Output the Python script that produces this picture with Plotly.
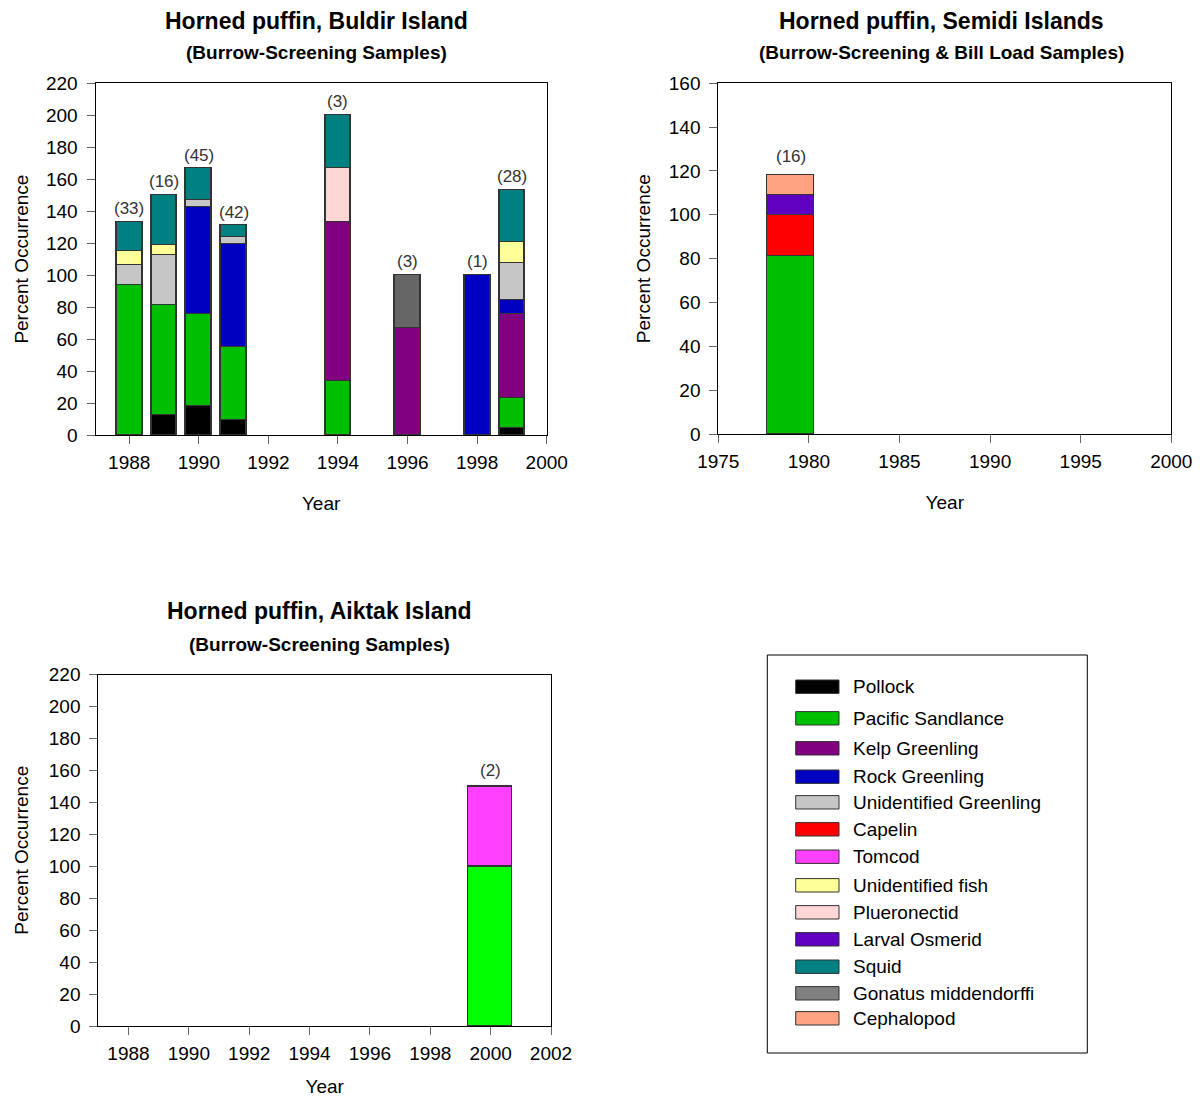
import plotly.graph_objects as go

# page is rendered with an 8px body margin, so the figure is sized to fit the window
OFF = 8
W, H = 1201 - 2 * OFF, 1105 - 2 * OFF

# ---------------- data ----------------
SPECIES = ["Pollock", "Pacific Sandlance", "Kelp Greenling", "Rock Greenling",
           "Unidentified Greenling", "Capelin", "Tomcod", "Unidentified fish",
           "Plueronectid", "Larval Osmerid", "Squid", "Gonatus middendorffi",
           "Cephalopod"]
COLORS = ["#000000", "#00BF00", "#800080", "#0000C0", "#C6C6C6", "#FF0000",
          "#FF40FF", "#FFFF99", "#FFD6D6", "#5F00C0", "#008080", "#808080",
          "#FFA382"]

# Buldir Island (Burrow-screening)
buldir_years = [1988, 1989, 1990, 1991, 1994, 1996, 1998, 1999]
buldir_n = ["(33)", "(16)", "(45)", "(42)", "(3)", "(3)", "(1)", "(28)"]
buldir_pollock = [0, 12.5, 17.8, 9.5, 0, 0, 0, 4]
buldir_sandlance = [93.9, 68.75, 57.8, 45.2, 33.3, 0, 0, 19]
buldir_kelp = [0, 0, 0, 0, 100, 66.7, 0, 52.4]
buldir_rock = [0, 0, 66.7, 64.3, 0, 0, 100, 8.6]
buldir_unid_greenling = [12.1, 31.25, 4.4, 4.8, 0, 0, 0, 23.6]
buldir_unid_fish = [9.1, 6.25, 0, 0, 0, 0, 0, 13]
buldir_pleuronectid = [0, 0, 0, 0, 33.3, 0, 0, 0]
buldir_squid = [18.2, 31.25, 20, 7.1, 33.3, 0, 0, 32.4]
buldir_gonatus = [0, 0, 0, 0, 0, 33.3, 0, 0]

# Semidi Islands (Burrow-screening & bill load)
semidi_years = [1979]
semidi_n = ["(16)"]
semidi_sandlance = [81.25]
semidi_capelin = [18.75]
semidi_osmerid = [8.7]
semidi_cephalopod = [9.5]

# Aiktak Island (Burrow-screening)
aiktak_years = [2000]
aiktak_n = ["(2)"]
aiktak_sandlance = [100]
aiktak_tomcod = [50]

buldir_series = {
    "Pollock": buldir_pollock, "Pacific Sandlance": buldir_sandlance,
    "Kelp Greenling": buldir_kelp, "Rock Greenling": buldir_rock,
    "Unidentified Greenling": buldir_unid_greenling,
    "Unidentified fish": buldir_unid_fish, "Plueronectid": buldir_pleuronectid,
    "Squid": buldir_squid, "Gonatus middendorffi": buldir_gonatus,
}
semidi_series = {
    "Pacific Sandlance": semidi_sandlance, "Capelin": semidi_capelin,
    "Larval Osmerid": semidi_osmerid, "Cephalopod": semidi_cephalopod,
}
aiktak_series = {"Pacific Sandlance": aiktak_sandlance, "Tomcod": aiktak_tomcod}

FONT = "Liberation Sans, Arial, sans-serif"


def px(x):
    return (x - OFF) / W


def py(y):
    return 1 - (y - OFF) / H


fig = go.Figure()


def add_stack(xa, ya, years, series, width, n_labels, overrides=None, label_shift=4):
    overrides = overrides or {}
    for name, color in zip(SPECIES, COLORS):
        if name not in series:
            continue
        vals = [v if v else None for v in series[name]]
        fig.add_trace(go.Bar(
            x=years, y=vals, name=name, width=width,
            marker=dict(color=overrides.get(name, color),
                        line=dict(color="#333333", width=1.3)),
            xaxis=xa, yaxis=ya, showlegend=False,
        ))
    totals = [sum(s[i] for s in series.values()) for i in range(len(years))]
    for yr, tot, lab in zip(years, totals, n_labels):
        fig.add_annotation(x=yr, y=tot, xref=xa, yref=ya,
                           text=lab, showarrow=False, yanchor="bottom",
                           yshift=label_shift,
                           font=dict(family=FONT, size=17, color="#333333"))


add_stack("x", "y", buldir_years, buldir_series, 0.74, buldir_n,
          overrides={"Gonatus middendorffi": "#666666"}, label_shift=2)
add_stack("x2", "y2", semidi_years, semidi_series, 2.63, semidi_n, label_shift=7)
add_stack("x3", "y3", aiktak_years, aiktak_series, 1.46, aiktak_n,
          overrides={"Pacific Sandlance": "#00FF00"}, label_shift=4)

axis_common = dict(showline=True, linecolor="black", linewidth=1, mirror=True,
                   ticks="outside", ticklen=8, tickcolor="#666666", tickwidth=1,
                   tickfont=dict(family=FONT, size=19, color="black"),
                   showgrid=False, zeroline=False, fixedrange=True, automargin=False)
xaxis_common = dict(axis_common, ticklabelstandoff=2)
yaxis_common = dict(axis_common, ticklabelstandoff=5)

title_font = dict(family=FONT, size=19, color="black")

fig.update_layout(
    width=W, height=H,
    margin=dict(l=0, r=0, t=0, b=0, autoexpand=False),
    paper_bgcolor="white", plot_bgcolor="white",
    barmode="stack", bargap=0, showlegend=False,
    font=dict(family=FONT, color="black"),
    xaxis=dict(xaxis_common, domain=[px(95.5), px(546.7)], range=[1987.03, 2000],
               tickvals=list(range(1988, 2001, 2)), anchor="y",
               title=dict(text="Year", font=title_font, standoff=24)),
    yaxis=dict(yaxis_common, domain=[py(435), py(83.3)], range=[0, 220], dtick=20,
               anchor="x", title=dict(text="Percent Occurrence", font=title_font, standoff=12)),
    xaxis2=dict(xaxis_common, domain=[px(718.3), px(1171.3)], range=[1975, 2000],
                dtick=5, tick0=1975, anchor="y2",
                title=dict(text="Year", font=title_font, standoff=24)),
    yaxis2=dict(yaxis_common, domain=[py(434), py(83.3)], range=[0, 160], dtick=20,
                anchor="x2", title=dict(text="Percent Occurrence", font=title_font, standoff=13)),
    xaxis3=dict(xaxis_common, domain=[px(98.3), px(551)], range=[1987, 2002],
                tickvals=list(range(1988, 2003, 2)), anchor="y3",
                title=dict(text="Year", font=title_font, standoff=30)),
    yaxis3=dict(yaxis_common, domain=[py(1026), py(674.5)], range=[0, 220], dtick=20,
                anchor="x3", title=dict(text="Percent Occurrence", font=title_font, standoff=15)),
)

# chart titles
titles = [
    ("Horned puffin, Buldir Island", "(Burrow-Screening Samples)", 316.5, 21, 53),
    ("Horned puffin, Semidi Islands", "(Burrow-Screening & Bill Load Samples)", 941, 21, 52),
    ("Horned puffin, Aiktak Island", "(Burrow-Screening Samples)", 319.5, 611, 644),
]
for t, sub, cx, ty, sy in titles:
    fig.add_annotation(x=px(cx), y=py(ty), xref="paper", yref="paper", text="<b>%s</b>" % t,
                       showarrow=False, xanchor="center", yanchor="middle",
                       font=dict(family=FONT, size=23, color="black"))
    fig.add_annotation(x=px(cx), y=py(sy), xref="paper", yref="paper", text="<b>%s</b>" % sub,
                       showarrow=False, xanchor="center", yanchor="middle",
                       font=dict(family=FONT, size=19, color="black"))

# legend box (drawn)
fig.add_shape(type="rect", xref="paper", yref="paper",
              x0=px(767.3), x1=px(1087.3), y0=py(1053), y1=py(655),
              line=dict(color="black", width=1), fillcolor="white", layer="below")
row_y = [686.7, 718.3, 748.3, 776.7, 802.3, 829.3, 856.7, 885.3, 912.3, 939.3,
         966.7, 993.3, 1018.3]
for name, color, ry in zip(SPECIES, COLORS, row_y):
    fig.add_shape(type="rect", xref="paper", yref="paper",
                  x0=px(795.7), x1=px(839), y0=py(ry + 6.7), y1=py(ry - 6.7),
                  line=dict(color="#333333", width=1), fillcolor=color)
    fig.add_annotation(x=px(850.5), y=py(ry), xref="paper", yref="paper", text=name,
                       showarrow=False, xanchor="left", yanchor="middle",
                       font=dict(family=FONT, size=19, color="black"))

fig.write_html("out.html")
